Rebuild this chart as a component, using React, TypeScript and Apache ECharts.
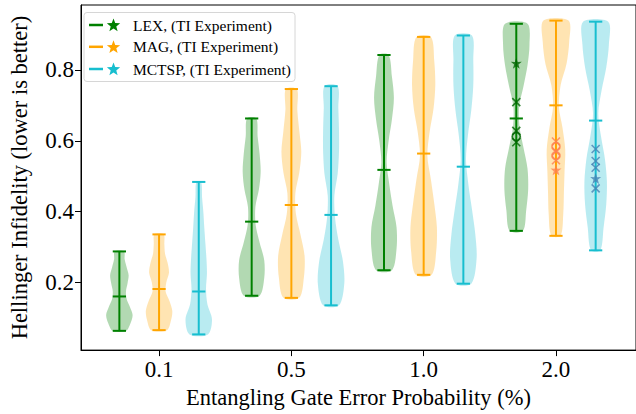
import React, { useEffect, useRef } from "react";
import * as echarts from "echarts";

// ---- data ----
const categories = ["0.1", "0.5", "1.0", "2.0"];
const methods = ["LEX", "MAG", "MCTSP"];
const legendLabels = ["LEX, (TI Experiment)", "MAG, (TI Experiment)", "MCTSP, (TI Experiment)"];
const lineColors = ["#008000", "#FFA500", "#17becf"];
const markerColors = ["#006400", "#FF7F50", "#4682B4"];

// per method, per category
const mins = [
  [0.064, 0.163, 0.235, 0.346],
  [0.066, 0.157, 0.222, 0.332],
  [0.054, 0.136, 0.197, 0.291],
];
const maxs = [
  [0.288, 0.663, 0.842, 0.93],
  [0.336, 0.746, 0.893, 0.939],
  [0.484, 0.754, 0.897, 0.936],
];
const medians = [
  [0.161, 0.372, 0.518, 0.663],
  [0.182, 0.419, 0.564, 0.7],
  [0.175, 0.391, 0.527, 0.657],
];
// relative density at 11 evenly spaced levels from min to max
const lexDensity = [
  [0.5, 0.85, 1.0, 0.8, 0.55, 0.5, 0.62, 0.7, 0.55, 0.4, 0.35],
  [0.6, 0.95, 0.95, 0.6, 0.3, 0.28, 0.55, 0.68, 0.6, 0.45, 0.35],
  [0.6, 0.95, 0.95, 0.65, 0.4, 0.2, 0.35, 0.6, 0.75, 0.6, 0.35],
  [0.5, 0.75, 0.9, 0.85, 0.55, 0.25, 0.22, 0.55, 0.85, 1.0, 0.85],
];
const magDensity = [
  [0.6, 0.9, 1.0, 0.8, 0.5, 0.55, 0.75, 0.65, 0.45, 0.4, 0.35],
  [0.6, 0.95, 1.0, 0.7, 0.35, 0.3, 0.6, 0.75, 0.6, 0.45, 0.42],
  [0.6, 0.95, 1.0, 0.8, 0.55, 0.28, 0.45, 0.75, 0.88, 0.8, 0.55],
  [0.35, 0.55, 0.6, 0.65, 0.7, 0.5, 0.22, 0.35, 0.8, 1.0, 0.95],
];
const mctspDensity = [
  [0.7, 1.0, 0.65, 0.55, 0.62, 0.58, 0.5, 0.42, 0.35, 0.25, 0.18],
  [0.6, 1.0, 0.9, 0.55, 0.3, 0.25, 0.5, 0.6, 0.6, 0.55, 0.5],
  [0.6, 1.0, 0.9, 0.65, 0.38, 0.2, 0.35, 0.6, 0.75, 0.75, 0.65],
  [0.35, 0.6, 0.8, 0.85, 0.7, 0.4, 0.2, 0.45, 0.8, 1.0, 0.95],
];
const densities = [lexDensity, magDensity, mctspDensity];

// individual run markers at 2.0 %
const starValues = [[0.819], [0.518], [0.494]];
const crossValues = [
  [0.709, 0.628, 0.596],
  [0.598, 0.57, 0.545],
  [0.577, 0.543, 0.524, 0.466],
];
const circleValues = [[0.612], [0.584, 0.558], []];
const markerCategory = 3;

const offsets = [-0.3, 0, 0.3];
const violinWidth = 0.2;

const STAR =
  "path://M50,0 L61.8,35.1 L98.1,34.5 L69.1,56.7 L79.4,90.5 L50,70 L20.6,90.5 L30.9,56.7 L1.9,34.5 L38.2,35.1 Z";
const CROSS = "path://M0,0 L10,10 M10,0 L0,10";
const FONT = "Liberation Serif";

function fillColor(hex: string) {
  const r = parseInt(hex.slice(1, 3), 16);
  const g = parseInt(hex.slice(3, 5), 16);
  const b = parseInt(hex.slice(5, 7), 16);
  return `rgba(${r},${g},${b},0.3)`;
}

function starPoints(cx: number, cy: number, R: number) {
  const pts: number[][] = [];
  const r = R * 0.42;
  for (let i = 0; i < 10; i++) {
    const ang = -Math.PI / 2 + (i * Math.PI) / 5;
    const rad = i % 2 === 0 ? R : r;
    pts.push([cx + rad * Math.cos(ang), cy + rad * Math.sin(ang)]);
  }
  return pts;
}

export default function App() {
  const ref = useRef<HTMLDivElement>(null);
  useEffect(() => {
    if (!ref.current) return;
    const chart = echarts.init(ref.current, null, { renderer: "svg" });

    const series: any[] = [];
    methods.forEach((m, mi) => {
      const data = categories.map((_, ci) => [
        ci + offsets[mi],
        mins[mi][ci],
        maxs[mi][ci],
        medians[mi][ci],
        ...densities[mi][ci],
      ]);
      const color = lineColors[mi];
      series.push({
        type: "custom",
        name: m,
        data,
        encode: { x: 0, y: [1, 2] },
        z: 2,
        renderItem: (params: any, api: any) => {
          const x = api.value(0);
          const lo = api.value(1);
          const hi = api.value(2);
          const med = api.value(3);
          const n = 11;
          const right: number[][] = [];
          const left: number[][] = [];
          for (let k = 0; k < n; k++) {
            const y = lo + ((hi - lo) * k) / (n - 1);
            const hw = (api.value(4 + k) * violinWidth) / 2;
            right.push(api.coord([x + hw, y]));
            left.push(api.coord([x - hw, y]));
          }
          const pts = right.concat(left.reverse());
          const capHalf = violinWidth / 4;
          const seg = (x1: number, y1: number, x2: number, y2: number) => {
            const a = api.coord([x1, y1]);
            const b = api.coord([x2, y2]);
            return {
              type: "line",
              shape: { x1: a[0], y1: a[1], x2: b[0], y2: b[1] },
              style: { stroke: color, lineWidth: 2 },
            };
          };
          return {
            type: "group",
            children: [
              {
                type: "polygon",
                shape: { points: pts, smooth: 0.3 },
                style: { fill: fillColor(color), stroke: "none" },
              },
              seg(x, lo, x, hi),
              seg(x - capHalf, lo, x + capHalf, lo),
              seg(x - capHalf, hi, x + capHalf, hi),
              seg(x - capHalf, med, x + capHalf, med),
            ],
          };
        },
      });
      const px = markerCategory + offsets[mi];
      series.push({
        type: "scatter",
        name: m + " stars",
        data: starValues[mi].map((v) => [px, v]),
        symbol: STAR,
        symbolSize: 11,
        itemStyle: { color: markerColors[mi] },
        z: 5,
      });
      series.push({
        type: "scatter",
        name: m + " crosses",
        data: crossValues[mi].map((v) => [px, v]),
        symbol: CROSS,
        symbolSize: 8,
        itemStyle: { color: "transparent", borderColor: markerColors[mi], borderWidth: 1.6 },
        z: 5,
      });
      series.push({
        type: "scatter",
        name: m + " circles",
        data: circleValues[mi].map((v) => [px, v]),
        symbol: "circle",
        symbolSize: 8,
        itemStyle: { color: "transparent", borderColor: markerColors[mi], borderWidth: 1.6 },
        z: 5,
      });
    });

    const legendChildren: any[] = [
      {
        type: "rect",
        shape: { x: 84, y: 12.5, width: 211, height: 69, r: 3 },
        style: { fill: "rgba(255,255,255,0.8)", stroke: "#d6d6d6", lineWidth: 1 },
      },
    ];
    const rowsY = [25, 46.8, 69];
    legendLabels.forEach((lab, i) => {
      const y = rowsY[i];
      legendChildren.push({
        type: "line",
        shape: { x1: 89, y1: y, x2: 103, y2: y },
        style: { stroke: lineColors[i], lineWidth: 2.5 },
      });
      legendChildren.push({
        type: "polygon",
        shape: { points: starPoints(113.5, y + 0.5, 7) },
        style: { fill: lineColors[i] },
      });
      legendChildren.push({
        type: "text",
        x: 133,
        y: y,
        style: {
          text: lab,
          fill: "#000",
          font: `15.5px '${FONT}'`,
          verticalAlign: "middle",
          align: "left",
        },
      });
    });

    chart.setOption({
      animation: false,
      backgroundColor: "#fff",
      grid: {
        left: 77,
        top: 5,
        width: 562,
        height: 350,
        show: true,
        borderColor: "#000",
        borderWidth: 1,
        backgroundColor: "transparent",
      },
      xAxis: {
        type: "value",
        min: -0.59,
        max: 3.6049,
        name: "Entangling Gate Error Probability (%)",
        nameLocation: "middle",
        nameGap: 33,
        nameTextStyle: { fontFamily: FONT, fontSize: 22.5, color: "#000" },
        axisLine: { show: true, onZero: false, lineStyle: { color: "#000", width: 1 } },
        axisTick: { show: true, customValues: [0, 1, 2, 3], length: 6, lineStyle: { color: "#000" } },
        axisLabel: {
          customValues: [0, 1, 2, 3],
          formatter: (v: number) => categories[Math.round(v)] ?? "",
          fontFamily: FONT,
          fontSize: 23,
          color: "#000",
          margin: 8,
        },
        splitLine: { show: false },
      },
      yAxis: {
        type: "value",
        min: 0.0097,
        max: 0.983,
        name: "Hellinger Infidelity (lower is better)",
        nameLocation: "middle",
        nameGap: 50,
        nameTextStyle: { fontFamily: FONT, fontSize: 22.5, color: "#000" },
        axisLine: { show: true, onZero: false, lineStyle: { color: "#000", width: 1 } },
        axisTick: { show: true, customValues: [0.2, 0.4, 0.6, 0.8], length: 6, lineStyle: { color: "#000" } },
        axisLabel: {
          customValues: [0.2, 0.4, 0.6, 0.8],
          formatter: (v: number) => v.toFixed(1),
          fontFamily: FONT,
          fontSize: 23,
          color: "#000",
          margin: 7,
        },
        splitLine: { show: false },
      },
      graphic: [{ type: "group", children: legendChildren, z: 100 }],
      series,
    });
    return () => chart.dispose();
  }, []);
  return (
    <div
      ref={ref}
      style={{ position: "fixed", left: 0, top: 0, width: 636, height: 414 }}
    />
  );
}
